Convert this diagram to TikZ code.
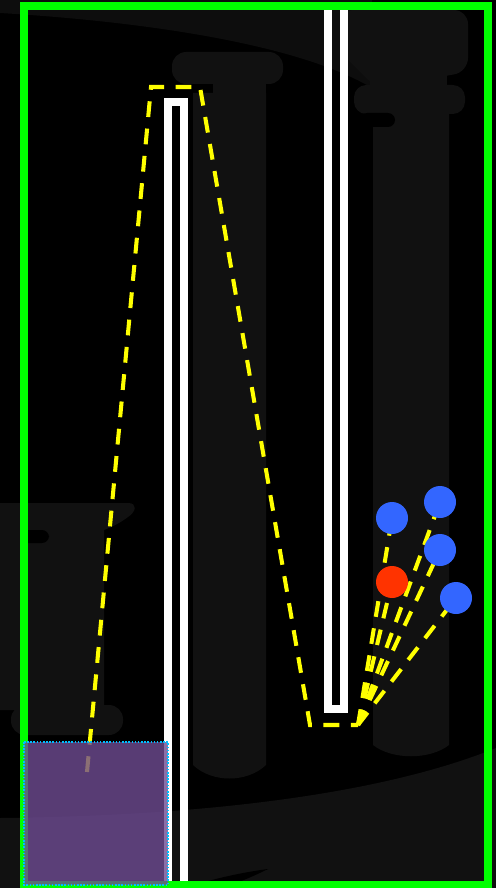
\documentclass[tikz,border=0pt]{standalone}
\usetikzlibrary{calc}

\definecolor{framegreen}{RGB}{0,255,0}
\definecolor{ropeyellow}{RGB}{255,255,0}
\definecolor{ballblue}{RGB}{51,102,255}
\definecolor{ballred}{RGB}{255,51,0}
\definecolor{zonepurple}{RGB}{110,75,146}
\definecolor{zonecyan}{RGB}{0,190,255}
\definecolor{shadegray}{RGB}{17,17,17}
\definecolor{topgray}{RGB}{13,13,13}

\begin{document}
\begin{tikzpicture}[x=0.02cm, y=-0.02cm,
  shade/.style={fill=shadegray},
  wall/.style={draw=white, line width=4.5pt},
  frame/.style={draw=framegreen, line width=4.5pt},
  rope/.style={draw=ropeyellow, line width=2.3pt, dash pattern=on 9pt off 6.6pt},
  ball/.style={circle, minimum size=0.64cm, inner sep=0pt},
  zone/.style={fill=zonepurple, fill opacity=0.8, draw=zonecyan,
    line width=0.9pt, dash pattern=on 0.9pt off 0.9pt}]
  % canvas 496 x 888 px, y down
  \fill[black] (0,0) rectangle (496,888);
  \useasboundingbox (0,0) rectangle (496,888);

  % faint columns behind
  \fill[topgray] (0,0) -- (0,13) .. controls (150,22) and (300,45) .. (372,88) -- (372,0) -- cycle;
  \fill[shade] (0,818) .. controls (200,816) and (380,795) .. (496,748) -- (496,888) -- (0,888) -- cycle;
  \fill[black] (185,888) .. controls (215,878) and (245,872) .. (268,869)
    .. controls (250,878) and (232,885) .. (222,888) -- cycle;
  % right column
  \fill[shade, rounded corners=8pt] (340,10) -- (468,10) -- (468,72) -- (376,88) -- (340,52) -- cycle;
  \fill[shade] (370,68) rectangle (447,92);
  \fill[shade, rounded corners=7pt] (354,85) rectangle (465,114);
  \fill[shade] (373,110) -- (373,745) .. controls (392,760) and (430,760) .. (449,745) -- (449,110) -- cycle;
  \fill[black, rounded corners=4pt] (360,113) rectangle (395,127);
  % middle column
  \fill[shade, rounded corners=8pt] (172,52) rectangle (283,84);
  \fill[shade] (213,80) rectangle (266,96);
  \fill[shade] (193,93) -- (193,765) .. controls (212,783) and (247,783) .. (266,765) -- (266,93) -- cycle;
  % left column
  \fill[shade] (0,503) -- (128,503) .. controls (138,503) and (136,512) .. (128,517)
    .. controls (120,523) and (112,527) .. (104,530) -- (104,710) -- (0,710) -- cycle;
  \fill[black, rounded corners=4pt] (20,530) rectangle (49,543);
  \fill[shade, rounded corners=8pt] (11,705) rectangle (123,735);

  % walls
  \draw[wall] (168,888) -- (168,102) -- (184,102) -- (184,888);
  \draw[wall] (328,10) -- (328,709) -- (344,709) -- (344,10);

  % green border
  \draw[frame] (24,6) rectangle (488,885);

  % rope over the two walls
  \coordinate (start) at (87,772);
  \coordinate (topL) at (151,87);
  \coordinate (topR) at (200,87);
  \coordinate (lowL) at (310,725);
  \coordinate (tail) at (358,725);
  \draw[rope] (start) -- (topL) -- (topR) -- (lowL) -- (tail);

  % balls and their strings
  \coordinate (blueA) at (392,518);
  \coordinate (blueB) at (440,502);
  \coordinate (blueC) at (440,550);
  \coordinate (blueD) at (456,598);
  \coordinate (redA) at (392,582);
  \foreach \b in {blueA, blueB, blueC, blueD, redA}
    \draw[rope] (tail) -- (\b);
  \node[ball, fill=ballblue] (ballA) at (blueA) {};
  \node[ball, fill=ballblue] (ballB) at (blueB) {};
  \node[ball, fill=ballblue] (ballC) at (blueC) {};
  \node[ball, fill=ballblue] (ballD) at (blueD) {};
  \node[ball, fill=ballred] (ballR) at (redA) {};

  % target zone
  \draw[zone] (24,742) rectangle (168,885);
\end{tikzpicture}
\end{document}
